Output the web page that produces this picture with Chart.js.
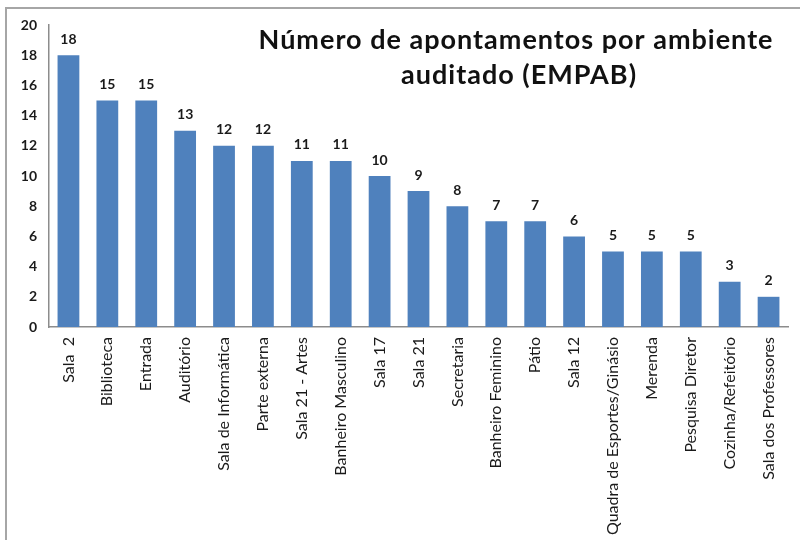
<!DOCTYPE html>
<html>
<head>
<meta charset="utf-8">
<script src="https://cdn.jsdelivr.net/npm/chart.js@4.4.1/dist/chart.umd.min.js"></script>
<style>
  html, body { margin: 0; padding: 0; background: #fff; }
  #wrap { position: relative; width: 800px; height: 540px; }
  #frame { position: absolute; left: 5px; top: 7px; right: 0; bottom: 0;
           border-top: 2px solid #a6a6a6; border-left: 2px solid #a6a6a6; pointer-events: none; }
  canvas { position: absolute; left: 0; top: 0; }
</style>
</head>
<body>
<div id="wrap">
  <canvas id="c" width="800" height="540"></canvas>
  <div id="frame"></div>
</div>
<script>
const categories = [
  "Sala  2", "Biblioteca", "Entrada", "Auditório", "Sala de Informática",
  "Parte externa", "Sala 21 - Artes", "Banheiro Masculino", "Sala 17", "Sala 21",
  "Secretaria", "Banheiro Feminino", "Pátio", "Sala 12", "Quadra de Esportes/Ginásio",
  "Merenda", "Pesquisa Diretor", "Cozinha/Refeitório", "Sala dos Professores"
];
const values = [18, 15, 15, 13, 12, 12, 11, 11, 10, 9, 8, 7, 7, 6, 5, 5, 5, 3, 2];
const yTicks = [0, 2, 4, 6, 8, 10, 12, 14, 16, 18, 20];
const titleLines = ["Número de apontamentos por ambiente", "auditado (EMPAB)"];

const FONT = "Lato, 'Open Sans', sans-serif";

const valueLabels = {
  id: 'valueLabels',
  afterDatasetsDraw(chart) {
    const ctx = chart.ctx;
    const meta = chart.getDatasetMeta(0);
    ctx.save();
    ctx.font = "bold 14px " + FONT;
    ctx.fillStyle = "#1a1a1a";
    ctx.textAlign = "center";
    ctx.textBaseline = "bottom";
    meta.data.forEach((bar, i) => {
      ctx.fillText(String(values[i]), bar.x, bar.y - 9);
    });
    ctx.restore();
  }
};

const overlayTitle = {
  id: 'overlayTitle',
  afterDraw(chart) {
    const ctx = chart.ctx;
    const a = chart.chartArea;
    ctx.save();
    ctx.font = "bold 27px " + FONT;
    try { ctx.letterSpacing = "1px"; } catch (e) {}
    ctx.fillStyle = "#111";
    ctx.textAlign = "center";
    ctx.textBaseline = "middle";
    const cx = a.left + (a.right - a.left) * 0.632;
    ctx.fillText(titleLines[0], cx, a.top + 15);
    ctx.fillText(titleLines[1], cx + 3, a.top + 50);
    ctx.restore();
  }
};

new Chart(document.getElementById('c'), {
  type: 'bar',
  data: {
    labels: categories,
    datasets: [{
      data: values,
      backgroundColor: '#4F81BD',
      borderWidth: 0,
      categoryPercentage: 1.0,
      barPercentage: 0.56
    }]
  },
  options: {
    responsive: false,
    animation: false,
    events: [],
    layout: { padding: { left: 0, top: 25, right: 12, bottom: 0 } },
    plugins: { legend: { display: false }, tooltip: { enabled: false }, title: { display: false } },
    scales: {
      x: {
        grid: { display: false, drawTicks: false },
        border: { display: true, color: '#8c8c8c', width: 1.5 },
        ticks: {
          minRotation: 90, maxRotation: 90, autoSkip: false, padding: 10,
          color: '#1a1a1a', font: { family: FONT, size: 16 }
        },
        afterFit(s) { s.height = 213; }
      },
      y: {
        min: 0, max: 20,
        afterBuildTicks(s) { s.ticks = yTicks.map(v => ({ value: v })); },
        grid: { display: false, drawTicks: false },
        border: { display: true, color: '#8c8c8c', width: 1.5 },
        ticks: { padding: 12, color: '#1a1a1a', font: { family: FONT, size: 14, weight: 'bold' } },
        afterFit(s) { s.width = 49; }
      }
    }
  },
  plugins: [valueLabels, overlayTitle]
});
</script>
</body>
</html>
